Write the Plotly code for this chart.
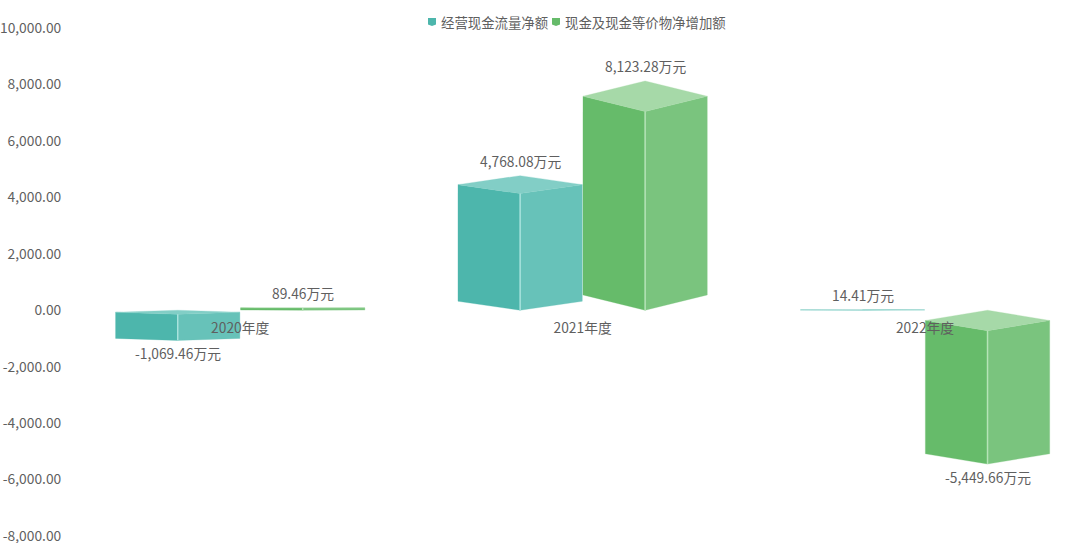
"""Grouped pseudo-3D cash flow bars drawn as filled polygons on plain axes."""
import plotly.graph_objects as go

categories = ["2020年度", "2021年度", "2022年度"]
operating_cash = [-1069.46, 4768.08, 14.41]
cash_increase = [89.46, 8123.28, -5449.66]
series_names = ["经营现金流量净额", "现金及现金等价物净增加额"]
y_ticks = [-8000, -6000, -4000, -2000, 0, 2000, 4000, 6000, 8000, 10000]

WIDTH, HEIGHT = 1080, 543
LEFT, RIGHT, TOP, BOTTOM = 69, 0, 28, 7
Y_MIN, Y_MAX = -8000, 10000
FONT = "Noto Sans CJK SC"
TEXT = "#5f5f5f"

TEAL = {"left": "#4DB6AC", "right": "#67C2B9", "top": "#82CEC6", "edge": "#A9E3DD"}
GREEN = {"left": "#66BB6A", "right": "#7AC47E", "top": "#A6D9A8", "edge": "#B5E4B7"}

BAR_OFFSET = 0.1825  # bar centre from category centre, in category units
HALF_BAR = 0.1815
DEPTH = 0.0667  # top face depth as a share of the bar value


def face(xs, ys, color):
    return go.Scatter(
        x=xs, y=ys, mode="lines", fill="toself", fillcolor=color,
        line=dict(color=color, width=0.3), hoverinfo="skip", showlegend=False,
    )


def cuboid(center, value, colors):
    """Left, right and top faces plus the light front edge of one bar."""
    l, r = center - HALF_BAR, center + HALF_BAR
    d = abs(value) * DEPTH
    # the back apex of the top face sits at the value, or at zero when negative
    apex = max(value, 0)
    # the front bottom vertex sits at zero, or at the value when negative
    base = min(value, 0)
    corner, front = apex - d, apex - 2 * d
    low = base + d
    return [
        face([l, center, center, l, l], [corner, front, base, low, corner], colors["left"]),
        face([center, r, r, center, center], [front, corner, low, base, front], colors["right"]),
        face([l, center, r, center, l], [corner, apex, corner, front, corner], colors["top"]),
        go.Scatter(
            x=[center, center], y=[front, base], mode="lines",
            line=dict(color=colors["edge"], width=1.5), hoverinfo="skip", showlegend=False,
        ),
    ]


fig = go.Figure()
annotations = []
for values, colors, offset in [(operating_cash, TEAL, -BAR_OFFSET), (cash_increase, GREEN, BAR_OFFSET)]:
    for i, value in enumerate(values):
        for trace in cuboid(i + offset, value, colors):
            fig.add_trace(trace)
        annotations.append(dict(
            x=i + offset, y=value, xref="x", yref="y",
            text=f"{value:,.2f}万元", showarrow=False,
            yshift=14.5 if value >= 0 else -13,
            font=dict(family=FONT, size=13.8, color=TEXT),
        ))


def px_x(px):
    return (px - LEFT) / (WIDTH - LEFT - RIGHT)


def px_y(py):
    return 1 - (py - TOP) / (HEIGHT - TOP - BOTTOM)


def shield(x0, x1, y0, y1, y2, color):
    path = (
        f"M {px_x(x0)} {px_y(y0)} L {px_x(x1)} {px_y(y0)} L {px_x(x1)} {px_y(y1)} "
        f"L {px_x((x0 + x1) / 2)} {px_y(y2)} L {px_x(x0)} {px_y(y1)} Z"
    )
    return dict(type="path", path=path, xref="paper", yref="paper",
                fillcolor=color, line=dict(width=0))


# legend sits tight against its markers, so it is placed by hand
shapes = [
    shield(428, 436, 18, 24.5, 26, TEAL["left"]),
    shield(552, 560, 18, 24.5, 26, GREEN["left"]),
]
for name, start in zip(series_names, [439, 563]):
    annotations.append(dict(
        x=px_x(start), y=px_y(22), xref="paper", yref="paper",
        xanchor="left", yanchor="middle", text=name, showarrow=False,
        font=dict(family=FONT, size=13.4, color=TEXT),
    ))

fig.update_layout(
    width=WIDTH, height=HEIGHT,
    margin=dict(l=LEFT, r=RIGHT, t=TOP, b=BOTTOM, autoexpand=False),
    paper_bgcolor="white", plot_bgcolor="white",
    showlegend=False, annotations=annotations, shapes=shapes,
    font=dict(family=FONT, size=13.8, color=TEXT),
    xaxis=dict(
        range=[-0.5, (WIDTH - 240) / 342.5], tickmode="array",
        tickvals=[0, 1, 2], ticktext=categories,
        anchor="free", position=-Y_MIN / (Y_MAX - Y_MIN),
        showgrid=False, zeroline=False, showline=False,
        ticks="outside", ticklen=5, tickcolor="rgba(0,0,0,0)", automargin=False,
    ),
    yaxis=dict(
        range=[Y_MIN, Y_MAX], tickmode="array", tickvals=y_ticks,
        ticktext=[f"{v:,.2f}" for v in y_ticks], ticklabeloverflow="allow",
        showgrid=False, zeroline=False, showline=False,
        ticks="outside", ticklen=4, tickcolor="rgba(0,0,0,0)", automargin=False,
    ),
)

fig.write_html(
    "out.html",
    config={"displayModeBar": False},
    post_script="document.body.style.margin = '0';",
)
